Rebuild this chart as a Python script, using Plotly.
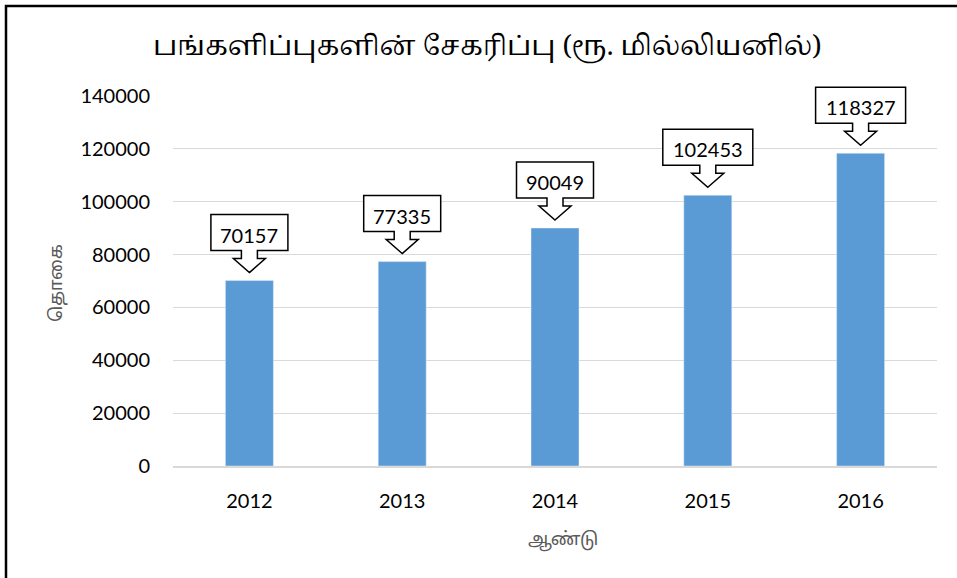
import plotly.graph_objects as go

years = ["2012", "2013", "2014", "2015", "2016"]
values = [70157, 77335, 90049, 102453, 118327]
y_ticks = [0, 20000, 40000, 60000, 80000, 100000, 120000, 140000]
y_tick_labels = [str(v) for v in y_ticks]

title_text = "பங்களிப்புகளின் சேகரிப்பு (ரூ. மில்லியனில்)"
y_title = "தொகை"
x_title = "ஆண்டு"

W, H = 957, 578
ML, MR, MT, MB = 173, 20, 96, 112
PW, PH = W - ML - MR, H - MT - MB

def px_to_paper(x, y):
    return (x - ML) / PW, (H - MB - y) / PH

xpos = list(range(len(years)))
x_range = [-0.5, len(years) - 0.5]
y_range = [0, 140000]

def data_to_paper(x, y):
    return ((x - x_range[0]) / (x_range[1] - x_range[0]),
            (y - y_range[0]) / (y_range[1] - y_range[0]))

fig = go.Figure()
fig.add_trace(go.Bar(x=xpos, y=values, marker=dict(color="#5b9bd5"), width=0.314))

# callouts (paper-referenced so they are not clipped by the plot area)
GAP, HEAD, SHAFT, BOXH = 8, 14, 8, 36
HW, SW = 16, 8
shapes = []
annotations = []
for xi, v in zip(xpos, values):
    label = str(v)
    bw = 77 if len(label) <= 5 else 90
    t = GAP
    pts = [
        (0, t),
        (HW, t + HEAD),
        (SW, t + HEAD),
        (SW, t + HEAD + SHAFT),
        (bw / 2, t + HEAD + SHAFT),
        (bw / 2, t + HEAD + SHAFT + BOXH),
        (-bw / 2, t + HEAD + SHAFT + BOXH),
        (-bw / 2, t + HEAD + SHAFT),
        (-SW, t + HEAD + SHAFT),
        (-SW, t + HEAD),
        (-HW, t + HEAD),
    ]
    path = "M " + " L ".join(f"{x},{y}" for x, y in pts) + " Z"
    ax_, ay_ = data_to_paper(xi, v)
    shapes.append(dict(type="path", xref="paper", yref="paper", xsizemode="pixel", ysizemode="pixel",
                       xanchor=ax_, yanchor=ay_, path=path,
                       fillcolor="white", line=dict(color="black", width=1.5), layer="above"))
    annotations.append(dict(x=xi, y=v, xref="x", yref="y", text=label, showarrow=False,
                            yshift=t + HEAD + SHAFT + BOXH / 2 - 2, yanchor="middle",
                            font=dict(family="Lato, sans-serif", size=20, color="black")))

# border
bx0, by0 = px_to_paper(6, 6)
bx1, by1 = px_to_paper(W + 10, H + 10)
shapes.append(dict(type="rect", xref="paper", yref="paper", x0=bx0, y0=by1, x1=bx1, y1=by0,
                   line=dict(color="black", width=2.5), fillcolor="rgba(0,0,0,0)", layer="below"))

tx, ty = px_to_paper(487, 47)
annotations.append(dict(x=tx, y=ty, xref="paper", yref="paper", text=title_text, showarrow=False,
                        xanchor="center", yanchor="middle",
                        font=dict(family="Noto Serif Tamil, Noto Sans Tamil, serif", size=27, color="black")))
ax, ay = px_to_paper(57, 283)
annotations.append(dict(x=ax, y=ay, xref="paper", yref="paper", text=y_title, showarrow=False,
                        textangle=-90, xanchor="center", yanchor="middle",
                        font=dict(family="Noto Sans Tamil, serif", size=18, color="#595959")))
xx, xy = px_to_paper(563, 540)
annotations.append(dict(x=xx, y=xy, xref="paper", yref="paper", text=x_title, showarrow=False,
                        xanchor="center", yanchor="middle",
                        font=dict(family="Noto Sans Tamil, serif", size=18, color="#595959")))

fig.update_layout(
    width=W, height=H,
    margin=dict(l=ML, r=MR, t=MT, b=MB, pad=0),
    paper_bgcolor="white", plot_bgcolor="white",
    showlegend=False,
    shapes=shapes, annotations=annotations,
    xaxis=dict(range=x_range, tickvals=xpos, ticktext=years,
               showgrid=False, showline=True, linecolor="#d9d9d9", linewidth=1.5,
               zeroline=False, ticks="", ticklabelstandoff=16,
               tickfont=dict(family="Lato, sans-serif", size=20, color="black")),
    yaxis=dict(range=y_range, tickvals=y_ticks, ticktext=y_tick_labels,
               showgrid=True, gridcolor="#d9d9d9", gridwidth=1.3,
               zeroline=False, ticks="", ticklabelstandoff=22,
               tickfont=dict(family="Lato, sans-serif", size=20, color="black")),
)

fig.write_html("out.html", config={"displayModeBar": False},
               post_script="document.body.style.margin='0';")
